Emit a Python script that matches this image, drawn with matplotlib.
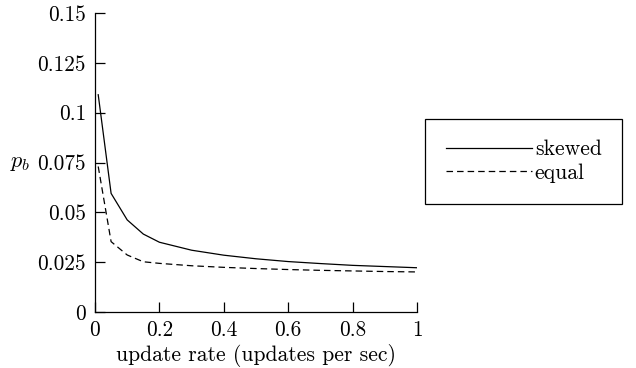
import matplotlib
matplotlib.use("Agg")
import matplotlib.pyplot as plt
from matplotlib.lines import Line2D

# update rate vs. blocking probability
rate = [0.01, 0.05, 0.1, 0.15, 0.2, 0.3, 0.4, 0.5, 0.6, 0.7, 0.8, 0.9, 1.0]
skewed = [0.109, 0.0595, 0.0462, 0.0391, 0.035, 0.031, 0.0285, 0.0267,
          0.0253, 0.0243, 0.0234, 0.0228, 0.0222]
equal = [0.073, 0.0353, 0.0286, 0.0252, 0.0244, 0.0232, 0.0224, 0.0218,
         0.0213, 0.0209, 0.0206, 0.0203, 0.0201]

xticks = [0, 0.2, 0.4, 0.6, 0.8, 1]
xticklabels = ["0", "0.2", "0.4", "0.6", "0.8", "1"]
yticks = [0, 0.025, 0.05, 0.075, 0.1, 0.125, 0.15]
yticklabels = ["0", "0.025", "0.05", "0.075", "0.1", "0.125", "0.15"]

plt.rcParams["font.family"] = ["cmr10"]
plt.rcParams["mathtext.fontset"] = "cm"
plt.rcParams["axes.formatter.use_mathtext"] = True
plt.rcParams["lines.scale_dashes"] = False
fs = 15.3
fl = 15.6

fig = plt.figure(figsize=(6.36, 3.68), dpi=100)
ax = fig.add_axes([95/636, 1-312/368, 322/636, 299/368])

ax.plot(rate, skewed, color="black", lw=0.9, label="skewed")
ax.plot(rate, equal, color="black", lw=0.9, dashes=(4.7, 2.9), label="equal")

ax.set_xlim(0, 1)
ax.set_ylim(0, 0.15)
ax.spines["top"].set_visible(False)
ax.spines["right"].set_visible(False)
for s in ("left", "bottom"):
    ax.spines[s].set_linewidth(0.9)

ax.set_xticks(xticks)
ax.set_xticklabels(xticklabels, fontsize=fs)
ax.set_yticks(yticks)
ax.set_yticklabels(yticklabels, fontsize=fs)
ax.tick_params(direction="in", length=7.2, width=0.9)
ax.tick_params(axis="y", pad=6.5)
ax.tick_params(axis="x", pad=6)

ax.set_xlabel("update rate (updates per sec)", fontsize=fl, labelpad=3)
ax.set_ylabel("$p_b$", fontsize=16, rotation=0, ha="center", va="baseline")
ax.yaxis.set_label_coords(-0.232, 0.485)

handles = [Line2D([], [], color="black", lw=0.9),
           Line2D([], [], color="black", lw=0.9, dashes=(4.7, 2.9))]
leg = fig.legend(handles, ["skewed", "equal"], loc="upper left",
                 bbox_to_anchor=(425/636, 1-119/368), borderaxespad=0,
                 fontsize=fl, frameon=True, fancybox=False, framealpha=1,
                 edgecolor="black", handlelength=4.0, handletextpad=0.12,
                 borderpad=0.95, labelspacing=0.2)
leg.get_frame().set_linewidth(0.9)

fig.savefig("out.png", dpi=100)
